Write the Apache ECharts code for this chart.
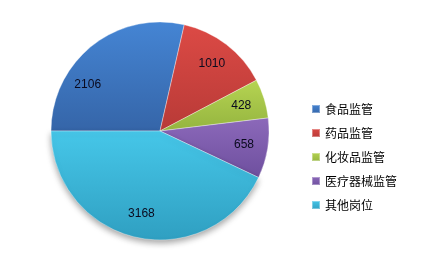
<!DOCTYPE html>
<html>
<head>
<meta charset="utf-8">
<script src="https://cdn.jsdelivr.net/npm/echarts@6/dist/echarts.min.js"></script>
<style>
  html, body { margin: 0; padding: 0; background: #fff; }
  #chart { width: 426px; height: 259px; }
</style>
</head>
<body>
<div id="chart"></div>
<script>
// 岗位分布
const categories = ['食品监管', '药品监管', '化妆品监管', '医疗器械监管', '其他岗位'];
const values = [2106, 1010, 428, 658, 3168];

// light (top) / dark (bottom) tone of each slice
const lightTones = ['#4585d4', '#dc4a45', '#b6d452', '#8c69ba', '#46c7e9'];
const darkTones  = ['#3565a8', '#b83a37', '#94b43f', '#6e4f9e', '#2f9fc1'];

const CENTER = [160, 131];
const RADIUS = 109;
const LABEL_SCALE = 1.48; // push inside labels outward from the half-radius

function shade(i) {
  return new echarts.graphic.LinearGradient(0, 0, 0, 1, [
    { offset: 0, color: lightTones[i] },
    { offset: 1, color: darkTones[i] }
  ]);
}

const chart = echarts.init(document.getElementById('chart'), null, { renderer: 'canvas' });

chart.setOption({
  animation: false,
  backgroundColor: '#ffffff',
  legend: {
    orient: 'vertical',
    left: 306,
    top: 97,
    itemWidth: 8,
    itemHeight: 8,
    itemGap: 10,
    icon: 'rect',
    textStyle: {
      fontFamily: '"Noto Sans CJK SC", sans-serif',
      fontSize: 12,
      color: '#000',
      lineHeight: 14
    },
    data: categories
  },
  series: [{
    type: 'pie',
    center: CENTER,
    radius: RADIUS,
    startAngle: 180,
    clockwise: true,
    label: {
      show: true,
      position: 'inside',
      formatter: '{c}',
      fontFamily: '"Liberation Sans", Arial, sans-serif',
      fontSize: 12,
      color: '#0a0a1e'
    },
    labelLine: { show: false },
    labelLayout: function (p) {
      const r = p.labelRect;
      const lx = r.x + r.width / 2;
      const ly = r.y + r.height / 2;
      return {
        dx: (lx - CENTER[0]) * (LABEL_SCALE - 1),
        dy: (ly - CENTER[1]) * (LABEL_SCALE - 1)
      };
    },
    itemStyle: {
      borderColor: 'rgba(255,255,255,0.35)',
      borderWidth: 1
    },
    data: categories.map(function (name, i) {
      const item = {
        name: name,
        value: values[i],
        itemStyle: { color: shade(i) }
      };
      if (i === 0) {
        // sit the first label lower in its wide slice
        item.label = { offset: [-13, 14] };
      }
      if (i === 4) {
        item.itemStyle.shadowColor = 'rgba(0,0,0,0.35)';
        item.itemStyle.shadowBlur = 6;
        item.itemStyle.shadowOffsetY = 3;
      }
      return item;
    })
  }]
});
</script>
</body>
</html>
